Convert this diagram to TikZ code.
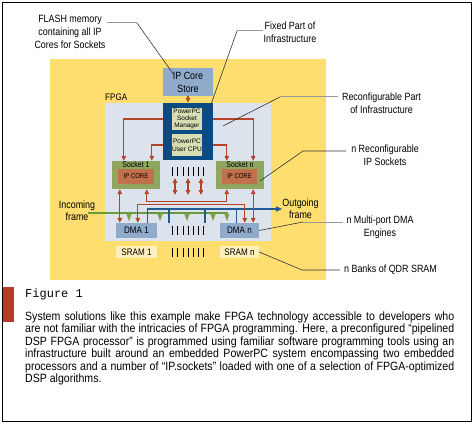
\documentclass[tikz,border=0pt]{standalone}
\usepackage{fontspec}
\setmainfont[FakeStretch=0.85]{Liberation Sans}
\newfontfamily\capfont[FakeStretch=0.88]{Liberation Sans}
\newfontfamily\plainfont{Liberation Sans}
\newfontfamily\figfont{Liberation Mono}
\usepackage{tikz}
\usetikzlibrary{arrows.meta,positioning,calc}
\definecolor{yellowbg}{HTML}{FDDE6E}
\definecolor{fpgablue}{HTML}{DCE3EC}
\definecolor{storeblue}{HTML}{8FAACB}
\definecolor{ppcnavy}{HTML}{0B4A82}
\definecolor{ppcpale}{HTML}{D8DDB4}
\definecolor{sockgreen}{HTML}{8FA65E}
\definecolor{corebrown}{HTML}{C1704B}
\definecolor{redline}{HTML}{B4452B}
\definecolor{greenline}{HTML}{6A9A3C}
\definecolor{greentip}{HTML}{7EA24A}
\definecolor{blueline}{HTML}{1F5B94}
\definecolor{sramcream}{HTML}{FFF1BC}
\definecolor{capred}{HTML}{B73B2D}

\begin{document}
\begin{tikzpicture}[x=1pt,y=-1pt,
  boxed/.style={inner sep=0pt,align=center},
  callout/.style={inner sep=0pt,align=center,font=\fontsize{10.5}{13}\selectfont},
  redlink/.style={line width=1.2pt,draw=redline,>={Triangle[width=4.5pt,length=5pt]}},
  blueout/.style={line width=1.2pt,draw=blueline,>={Triangle[width=5pt,length=6pt]}},
  greenin/.style={line width=1.1pt,draw=greenline},
  greendrop/.style={draw=greentip,line width=0.2pt,-{Triangle[width=5pt,length=7pt]}},
  leadline/.style={draw=black!80,line width=0.6pt},
  leadgrey/.style={draw=black!40,line width=1pt},
  barline/.style={line width=0.8pt}]
\useasboundingbox (0,0) rectangle (474,425);
\draw[line width=1.2pt] (2.5,2.5) rectangle (471.5,421.5);
\fill[yellowbg] (50,59) rectangle (326,280);

\node(fpga)[boxed,fill=fpgablue,minimum width=166pt,minimum height=138pt] at (188,172) {};
\node(fpganame)[anchor=west,inner sep=0pt,font=\fontsize{9.5}{11}\selectfont] at (105,97) {FPGA};
\node(store)[boxed,fill=storeblue,minimum width=50pt,minimum height=28pt,font=\fontsize{10.5}{13}\selectfont] at (188,82) {IP Core\\Store};
\node(ppc)[boxed,fill=ppcnavy,minimum width=50pt,minimum height=57pt] at (188,131.5) {};
\node(mgr)[boxed,fill=ppcpale,minimum width=30pt,minimum height=22pt,font=\plainfont\fontsize{6.4}{7.3}\selectfont] at (187,119) {PowerPC\\Socket\\Manager};
\node(cpu)[boxed,fill=ppcpale,minimum width=30pt,minimum height=22pt,font=\plainfont\fontsize{6.6}{8.3}\selectfont] at (187,145) {PowerPC\\User CPU};

\node(sock1)[boxed,fill=sockgreen,minimum width=48pt,minimum height=28pt,label={[anchor=north,inner sep=1pt,font=\fontsize{8.2}{9}\selectfont]north:Socket 1}] at (136,175) {};
\node(core1)[boxed,fill=corebrown,minimum width=36pt,minimum height=15pt,font=\fontsize{7}{8}\selectfont] at (136,176.5) {IP CORE};
\node(sockn)[boxed,fill=sockgreen,minimum width=48pt,minimum height=28pt,label={[anchor=north,inner sep=1pt,font=\fontsize{8.2}{9}\selectfont]north:Socket n}] at (240,175) {};
\node(coren)[boxed,fill=corebrown,minimum width=35pt,minimum height=15pt,font=\fontsize{7}{8}\selectfont] at (239.5,176.5) {IP CORE};

\node(dma1)[boxed,fill=storeblue,minimum width=41pt,minimum height=15pt,font=\fontsize{9.5}{11}\selectfont] at (136.5,230.5) {DMA 1};
\node(dman)[boxed,fill=storeblue,minimum width=39pt,minimum height=15pt,font=\fontsize{9.5}{11}\selectfont] at (239.5,230.5) {DMA n};
\node(sram1)[boxed,fill=sramcream,minimum width=41pt,minimum height=12pt,font=\fontsize{9.5}{11}\selectfont] at (136.5,252) {SRAM 1};
\node(sramn)[boxed,fill=sramcream,minimum width=39pt,minimum height=12pt,font=\fontsize{9.5}{11}\selectfont] at (239.5,252) {SRAM n};

\foreach \b in {0,...,6} {
  \draw[barline] (172.5+5.2*\b,167) -- ++(0,9);
  \draw[barline] (172.5+5.2*\b,226) -- ++(0,9);
  \draw[barline] (172.5+5.2*\b,248) -- ++(0,9);
}

\node(incoming)[callout,font=\fontsize{10.5}{12}\selectfont] at (77,211) {Incoming\\frame};
\node(outgoing)[callout,font=\fontsize{10.5}{12}\selectfont] at (300.5,209) {Outgoing\\frame};

\draw[redlink,->] (store) -- (ppc);
\draw[redlink,->] (ppc.west |- mgr) -| ([xshift=12pt]sock1.north west);
\draw[redlink,->] (ppc.west |- cpu) -| ([xshift=40pt]sock1.north west);
\draw[redlink,->] (ppc.east |- mgr) -| ([xshift=-11pt]sockn.north east);
\draw[redlink,->] (ppc.east |- cpu) -| ([xshift=11pt]sockn.north west);
\foreach \x [count=\i] in {175,188,201} {
  \coordinate (mt\i) at (\x,178);
  \coordinate (mb\i) at (\x,195);
  \draw[redlink,<->] (mt\i) -- (mb\i);
}

\coordinate (inend) at (228,213);
\draw[greenin] ([xshift=-7pt,yshift=-2pt]incoming.east) -- (inend);
\foreach \x [count=\i] in {129,160,187,213,227} {
  \coordinate (gd\i) at (\x,213);
  \draw[greendrop] (gd\i) -- ++(0,8);
}

\draw[blueout,->] ([xshift=32pt]dma1.north west) |- (outgoing.west);
\foreach \x [count=\i] in {169,205} {
  \coordinate (bt\i) at (\x,209);
  \draw[blueout] (bt\i) -- ++(0,14);
}
\draw[blueout] ([xshift=17pt]dman.north west) -- ++(0,-14);

\draw[redlink,<->] ([xshift=8pt]sock1.south west) -- ([xshift=8pt]dma1.north west -| sock1.south west);
\draw[redlink,<->] ([xshift=-11pt]sockn.south east) -- ([xshift=-11pt]dman.north east -| sockn.south east);
\draw[redlink,<->] ([xshift=35pt]sock1.south west) -- ++(0,12) -| ([xshift=11pt]sockn.south west);
\draw[redlink,<->] ([xshift=22pt]dma1.north west) -- ++(0,-18) -| ([xshift=25pt]dman.north west);

\node(flash)[callout] at (70,32) {FLASH memory\\containing all IP\\Cores for Sockets};
\node(fixed)[callout] at (290,32.5) {Fixed Part of\\Infrastructure};
\node(recpart)[callout] at (381.5,103.5) {Reconfigurable Part\\of Infrastructure};
\node(recsock)[callout] at (385,155.5) {n Reconfigurable\\IP Sockets};
\node(dmaeng)[callout] at (380,227.5) {n Multi-port DMA\\Engines};
\node(banks)[callout] at (390.5,270) {n Banks of QDR SRAM};

\coordinate (flashbend) at (137,23);
\coordinate (flashtip) at (174,75);
\draw[leadgrey] ([xshift=1pt]flash.east |- flashbend) -- (flashbend);
\draw[leadline] (flashbend) -- (flashtip);
\coordinate (fixedbend) at (237,31);
\coordinate (fixedtip) at (209,110);
\draw[leadgrey] ([xshift=-1pt]fixed.west |- fixedbend) -- (fixedbend);
\draw[leadline] (fixedbend) -- (fixedtip);
\coordinate (recpartbend) at (280,97);
\coordinate (recparttip) at (223,126);
\draw[leadgrey] ([xshift=-4pt]recpart.west |- recpartbend) -- (recpartbend);
\draw[leadline] (recpartbend) -- (recparttip);
\coordinate (recsockbend) at (303,151);
\coordinate (recsocktip) at (260,181);
\draw[leadline] ([xshift=-5pt]recsock.west |- recsockbend) -- (recsockbend) -- (recsocktip);
\coordinate (dmaengbend) at (303,222);
\draw[leadgrey] ([xshift=-3pt]dmaeng.west |- dmaengbend) -- (dmaengbend);
\draw[leadline] (dmaengbend) -- (dman.east);
\coordinate (banksbend) at (302,270);
\draw[leadline] ([xshift=-4pt]banks.west) -- (banksbend) -- (sramn.east);

\node(tab)[boxed,fill=capred,minimum width=11.5pt,minimum height=35pt] at (8.25,304.5) {};
\node(fig)[anchor=base west,inner sep=0pt,font=\figfont\fontsize{12}{12}\selectfont] at (25,297) {Figure 1};
\node(cap1)[anchor=base west,inner sep=0pt,font=\capfont\fontsize{12}{12.5}\selectfont] at (25,320) {\makebox[429pt][s]{System solutions like this example make FPGA technology accessible to developers who}};
\node(cap2)[anchor=base west,inner sep=0pt,font=\capfont\fontsize{12}{12.5}\selectfont] at (25,332.55) {\makebox[429pt][s]{are not familiar with the intricacies of FPGA programming. Here, a preconfigured “pipelined}};
\node(cap3)[anchor=base west,inner sep=0pt,font=\capfont\fontsize{12}{12.5}\selectfont] at (25,345.1) {\makebox[429pt][s]{DSP FPGA processor” is programmed using familiar software programming tools using an}};
\node(cap4)[anchor=base west,inner sep=0pt,font=\capfont\fontsize{12}{12.5}\selectfont] at (25,357.65) {\makebox[429pt][s]{infrastructure built around an embedded PowerPC system encompassing two embedded}};
\node(cap5)[anchor=base west,inner sep=0pt,font=\capfont\fontsize{12}{12.5}\selectfont] at (25,370.2) {\makebox[429pt][s]{processors and a number of “IP.sockets” loaded with one of a selection of FPGA-optimized}};
\node(cap6)[anchor=base west,inner sep=0pt,font=\capfont\fontsize{12}{12.5}\selectfont] at (25,382.75) {DSP algorithms.};
\end{tikzpicture}
\end{document}
